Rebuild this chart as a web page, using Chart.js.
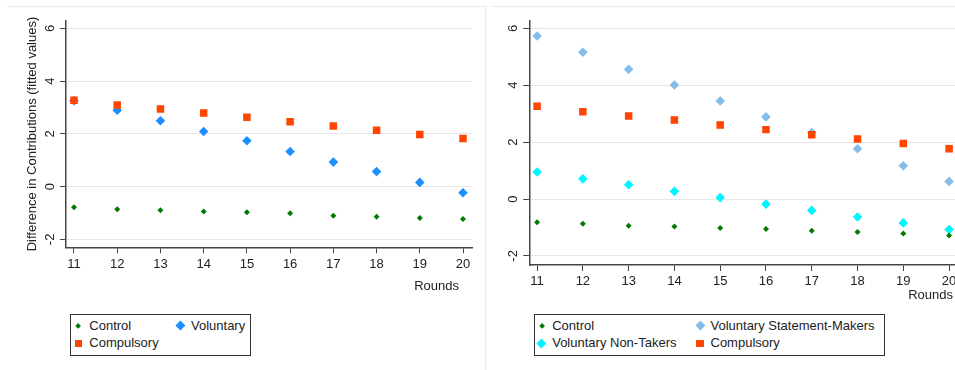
<!DOCTYPE html>
<html>
<head>
<meta charset="utf-8">
<script src="https://cdn.jsdelivr.net/npm/chart.js@4.4.1/dist/chart.umd.min.js"></script>
<style>
  html, body { margin: 0; padding: 0; background: #fff; }
  body { width: 955px; height: 370px; overflow: hidden; position: relative;
         font-family: "Liberation Sans", Arial, sans-serif; color: #222; }
  .rule { position: absolute; background: #ebebeb; }
  canvas { position: absolute; top: 0; }
  .xtitle { position: absolute; font-size: 13px; line-height: 16px; text-align: right; }
  .legend { position: absolute; border: 1px solid #333; box-sizing: border-box; background: #fff; }
  .item { position: absolute; font-size: 13px; line-height: 16px; white-space: nowrap; }
  .mark { position: absolute; }
</style>
</head>
<body>
<div class="rule" style="left:7px;top:6px;width:478px;height:1px"></div>
<div class="rule" style="left:485px;top:6px;width:1px;height:364px"></div>
<div class="rule" style="left:492px;top:6px;width:470px;height:1px"></div>

<canvas id="left" width="485" height="370" style="left:0"></canvas>
<canvas id="right" width="490" height="370" style="left:485px"></canvas>

<div class="xtitle" style="left:0;width:459px;top:278px">Rounds</div>
<div class="xtitle" style="left:0;width:953px;top:287px">Rounds</div>

<div id="legendLeft" class="legend" style="left:70px;top:314px;width:181px;height:42px"></div>
<div id="legendRight" class="legend" style="left:534px;top:314px;width:351px;height:42px"></div>

<script>
// Rounds on the horizontal axis and the y-axis tick values
const rounds = [11, 12, 13, 14, 15, 16, 17, 18, 19, 20];
const yTicks = [-2, 0, 2, 4, 6];

// Left panel: fitted differences in contributions
const controlLeft    = [-0.78, -0.86, -0.90, -0.94, -0.97, -1.01, -1.10, -1.14, -1.19, -1.23];
const voluntary      = [3.26, 2.90, 2.50, 2.09, 1.74, 1.33, 0.93, 0.57, 0.16, -0.23];
const compulsoryLeft = [3.27, 3.09, 2.94, 2.79, 2.63, 2.46, 2.30, 2.14, 1.98, 1.82];

// Right panel: voluntary treatment split by statement choice
const controlRight    = [-0.82, -0.87, -0.94, -0.97, -1.02, -1.05, -1.12, -1.16, -1.21, -1.28];
const statementMakers = [5.73, 5.16, 4.56, 4.01, 3.45, 2.89, 2.34, 1.77, 1.17, 0.62];
const nonTakers       = [0.95, 0.71, 0.50, 0.27, 0.05, -0.18, -0.40, -0.63, -0.84, -1.07];
const compulsoryRight = [3.26, 3.07, 2.92, 2.78, 2.60, 2.44, 2.26, 2.11, 1.95, 1.77];

const FONT = '"Liberation Sans", Arial, sans-serif';
const TEXT = '#222';
const AXIS = '#444';
const GRID = '#e6e6e6';

Chart.defaults.font.family = FONT;
Chart.defaults.font.size = 13;
Chart.defaults.color = TEXT;

const COLORS = {
  control: '#007a00',
  voluntary: '#1e8fff',
  statement: '#84bdea',
  nonTakers: '#00f5ff',
  compulsory: '#ff4500'
};

function points(values) {
  return rounds.map((r, i) => ({ x: r, y: values[i] }));
}

function series(label, values, color, style, radius, order) {
  return {
    label: label,
    data: points(values),
    backgroundColor: color,
    borderColor: color,
    borderWidth: 0,
    pointStyle: style,
    pointRadius: radius,
    pointHoverRadius: radius,
    showLine: false,
    order: order
  };
}

function scatterPanel(canvasId, datasets, opt) {
  return new Chart(document.getElementById(canvasId), {
    type: 'scatter',
    data: { datasets: datasets },
    options: {
      responsive: false,
      animation: false,
      devicePixelRatio: 1,
      events: [],
      layout: { padding: { left: 0, top: 20.7, right: opt.padRight, bottom: 0 } },
      plugins: { legend: { display: false }, tooltip: { enabled: false } },
      scales: {
        x: {
          type: 'linear',
          min: opt.xMin, max: opt.xMax,
          afterBuildTicks: s => { s.ticks = rounds.map(v => ({ value: v })); },
          afterFit: s => { s.height = opt.xHeight; },
          grid: { drawOnChartArea: false, drawTicks: true, tickLength: 6, tickColor: AXIS, tickWidth: 1 },
          border: { color: AXIS, width: 1.5 },
          ticks: { padding: 3, maxRotation: 0, autoSkip: false, color: TEXT, font: { size: 13 } }
        },
        y: {
          type: 'linear',
          min: opt.yMin, max: opt.yMax,
          afterBuildTicks: s => { s.ticks = yTicks.map(v => ({ value: v })); },
          afterFit: s => { s.width = opt.yWidth; },
          grid: { color: GRID, lineWidth: 1, drawTicks: true, tickLength: 6, tickColor: AXIS, tickWidth: 1 },
          border: { color: AXIS, width: 1.5 },
          ticks: { minRotation: 90, maxRotation: 90, crossAlign: 'center', padding: 4, color: TEXT, font: { size: 13 } },
          title: opt.yTitle ? {
            display: true, text: opt.yTitle, color: TEXT, font: { size: 13 },
            padding: { top: 24.7, bottom: 0 }
          } : { display: false }
        }
      }
    }
  });
}

const leftChart = scatterPanel('left', [
  series('Control', controlLeft, COLORS.control, 'rectRot', 3, 1),
  series('Voluntary', voluntary, COLORS.voluntary, 'rectRot', 4.8, 1),
  series('Compulsory', compulsoryLeft, COLORS.compulsory, 'rect', 5.3, 0)
], {
  xMin: 10.815, xMax: 20.208, yMin: -2.30, yMax: 6.29,
  yWidth: 66, xHeight: 370 - 247.3, padRight: 13,
  yTitle: 'Difference in Contributions (fitted values)'
});

const rightChart = scatterPanel('right', [
  series('Control', controlRight, COLORS.control, 'rectRot', 3, 1),
  series('Voluntary Statement-Makers', statementMakers, COLORS.statement, 'rectRot', 4.8, 1),
  series('Voluntary Non-Takers', nonTakers, COLORS.nonTakers, 'rectRot', 4.8, 1),
  series('Compulsory', compulsoryRight, COLORS.compulsory, 'rect', 5.3, 0)
], {
  xMin: 10.83, xMax: 20.21, yMin: -2.32, yMax: 6.27,
  yWidth: 44.3, xHeight: 370 - 265, padRight: 16.3,
  yTitle: null
});

// Two-column legend boxes built from each chart's datasets
function buildLegend(chart, boxId, boxLeft, cols, rows, textGap) {
  const box = document.getElementById(boxId);
  chart.data.datasets.forEach((ds, i) => {
    const cx = cols[i % 2] - boxLeft;
    const cy = rows[Math.floor(i / 2)] - 314;
    const side = ds.pointRadius * Math.SQRT2;
    const m = document.createElement('div');
    m.className = 'mark';
    m.style.width = side + 'px';
    m.style.height = side + 'px';
    m.style.left = (cx - side / 2 - 1) + 'px';
    m.style.top = (cy - side / 2 - 1) + 'px';
    m.style.background = ds.backgroundColor;
    if (ds.pointStyle === 'rectRot') m.style.transform = 'rotate(45deg)';
    box.appendChild(m);
    const t = document.createElement('div');
    t.className = 'item';
    t.textContent = ds.label;
    t.style.left = (cx + textGap - 1) + 'px';
    t.style.top = (cy - 8 - 1) + 'px';
    box.appendChild(t);
  });
}

buildLegend(leftChart, 'legendLeft', 70, [78.3, 180], [325.7, 343.3], 11);
buildLegend(rightChart, 'legendRight', 534, [541.7, 700], [325.7, 343.3], 10.5);
</script>
</body>
</html>
